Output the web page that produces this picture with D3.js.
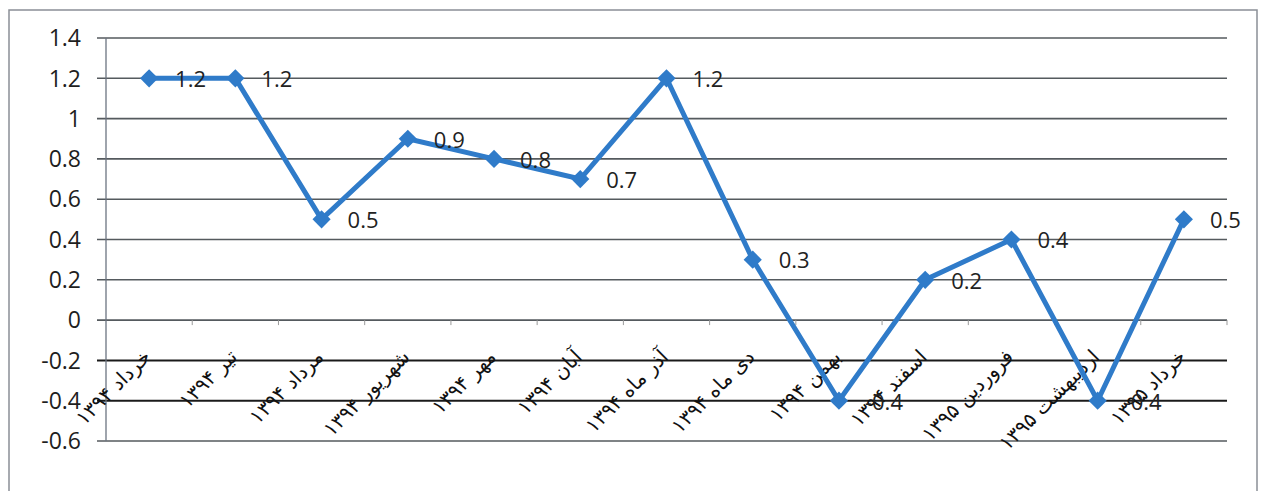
<!DOCTYPE html>
<html><head><meta charset="utf-8">
<script src="https://cdn.jsdelivr.net/npm/d3@7"></script>
<style>body{margin:0;background:#fff}svg{display:block}</style>
</head><body>
<svg id="c" width="1263" height="491"></svg>
<script>
const categories = ["خرداد ۱۳۹۴","تیر ۱۳۹۴","مرداد ۱۳۹۴","شهریور ۱۳۹۴","مهر ۱۳۹۴","آبان ۱۳۹۴","آذر ماه ۱۳۹۴","دی ماه ۱۳۹۴","بهمن ۱۳۹۴","اسفند ۱۳۹۴","فروردین ۱۳۹۵","اردیبهشت ۱۳۹۵","خرداد ۱۳۹۵"];
const values = [1.2, 1.2, 0.5, 0.9, 0.8, 0.7, 1.2, 0.3, -0.4, 0.2, 0.4, -0.4, 0.5];
const yTicks = [-0.6, -0.4, -0.2, 0, 0.2, 0.4, 0.6, 0.8, 1, 1.2, 1.4];
const darkTicks = [-0.4, -0.2];

const svg = d3.select("#c");
const L = 106, R = 1227, T = 38, B = 441;
svg.append("rect").attr("x",9).attr("y",10).attr("width",1248).attr("height",500)
  .attr("fill","none").attr("stroke","#8a8f96").attr("stroke-width",1.5);

const x = d3.scaleBand().domain(categories).range([L, R]).padding(0);
const y = d3.scaleLinear().domain([-0.6, 1.4]).range([B, T]);
const cx = (i) => x(categories[i]) + x.bandwidth()/2;

svg.append("g").selectAll("line").data(yTicks).join("line")
  .attr("x1", L - 9).attr("x2", R)
  .attr("y1", d => y(d)).attr("y2", d => y(d))
  .attr("stroke", d => darkTicks.includes(d) ? "#1a1a1a" : "#555a5e")
  .attr("stroke-width", d => darkTicks.includes(d) ? 2 : 1.6);

svg.append("line").attr("x1", L).attr("x2", L).attr("y1", T).attr("y2", B)
  .attr("stroke", "#6b7380").attr("stroke-width", 1.3);

svg.append("g").selectAll("text").data(yTicks).join("text")
  .attr("x", 81).attr("y", d => y(d)).attr("dy", "0.36em")
  .attr("text-anchor", "end")
  .attr("font-family", "'Open Sans', Lato, sans-serif").attr("font-size", 23)
  .attr("fill", "#1e1e1e")
  .text(d => d);

const bounds = categories.map(c => x(c)).concat([R]);
svg.append("g").selectAll("line").data(bounds.slice(1)).join("line")
  .attr("x1", d => d).attr("x2", d => d)
  .attr("y1", y(0)).attr("y2", y(0) + 5)
  .attr("stroke", "#999").attr("stroke-width", 1);

svg.append("g").selectAll("text").data(categories).join("text")
  .attr("transform", (d, i) => `translate(${cx(i) + 3},${y(0) + 38}) rotate(-45)`)
  .attr("text-anchor", "end")
  .attr("font-family", "'DejaVu Sans', sans-serif").attr("font-size", 20)
  .attr("fill", "#111")
  .text(d => d);

const line = d3.line().x((d, i) => cx(i)).y(d => y(d));
svg.append("path").datum(values).attr("d", line)
  .attr("fill", "none").attr("stroke", "#2f7bc9").attr("stroke-width", 5)
  .attr("stroke-linejoin", "miter");

svg.append("g").selectAll("path").data(values).join("path")
  .attr("transform", (d, i) => `translate(${cx(i)},${y(d)}) rotate(45)`)
  .attr("d", d3.symbol().type(d3.symbolSquare).size(165))
  .attr("fill", "#2f7bc9");

svg.append("g").selectAll("text").data(values).join("text")
  .attr("x", (d, i) => cx(i) + 26)
  .attr("y", d => y(d)).attr("dy", "0.4em")
  .attr("font-family", "'Open Sans', Lato, sans-serif").attr("font-size", 22)
  .attr("fill", "#222")
  .text(d => d);
</script>
</body></html>
